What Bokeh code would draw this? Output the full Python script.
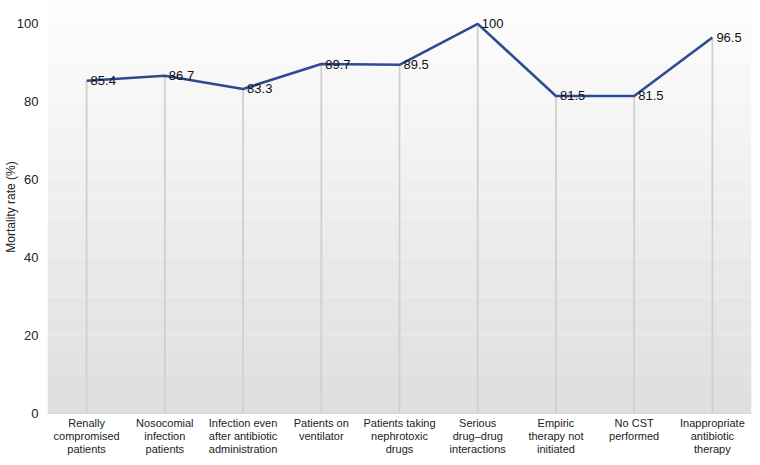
import numpy as np
from bokeh.plotting import figure
from bokeh.models import ColumnDataSource, FactorRange, Range1d, SingleIntervalTicker, BoxAnnotation
from bokeh.core.properties import value
from bokeh.embed import file_html
from bokeh.resources import INLINE

categories = [
    "Renally\ncompromised\npatients",
    "Nosocomial\ninfection\npatients",
    "Infection even\nafter antibiotic\nadministration",
    "Patients on\nventilator",
    "Patients taking\nnephrotoxic\ndrugs",
    "Serious\ndrug\u2013drug\ninteractions",
    "Empiric\ntherapy not\ninitiated",
    "No CST\nperformed",
    "Inappropriate\nantibiotic\ntherapy",
]
mortality = [85.4, 86.7, 83.3, 89.7, 89.5, 100, 81.5, 81.5, 96.5]
labels = ["85.4", "86.7", "83.3", "89.7", "89.5", "100", "81.5", "81.5", "96.5"]
y_ticks_interval = 20

FONT = "Liberation Sans"
Y_TOP = 106

src = ColumnDataSource(dict(cat=categories, val=mortality, lab=labels))

p = figure(
    width=752, height=457,
    x_range=FactorRange(factors=categories, range_padding=0),
    y_range=Range1d(0, Y_TOP),
    output_backend="svg", toolbar_location=None,
    min_border_top=0, min_border_right=1, min_border_left=0, min_border_bottom=0,
)
p.outline_line_color = None
p.background_fill_color = "white"
p.border_fill_color = "white"
p.xgrid.visible = False
p.ygrid.visible = False

# banded gradient background
edges = np.arange(0, Y_TOP, 5)
n = len(edges)
for i, b in enumerate(edges):
    t = min(b + 5, Y_TOP)
    g = int(round(223 + (i / (n - 1)) * 31))
    col = "#%02x%02x%02x" % (g, g, g)
    p.add_layout(BoxAnnotation(bottom=b, top=t, fill_color=col, fill_alpha=1.0,
                               line_color=None, level="underlay"))

# drop lines
p.segment(x0="cat", y0=0, x1="cat", y1="val", source=src,
          line_color="#d0d0d0", line_width=1.8)

# main line
p.line(x="cat", y="val", source=src, line_color="#2f4a92", line_width=2.6)

# data labels
p.text(x="cat", y="val", text="lab", source=src,
       text_font=value(FONT), text_font_size="13px", text_color="#111111",
       text_align="left", text_baseline="middle", x_offset=4)

# axes
p.yaxis.ticker = SingleIntervalTicker(interval=y_ticks_interval)
p.yaxis.axis_label = "Mortality rate (%)"
p.yaxis.axis_label_text_font = FONT
p.yaxis.axis_label_text_font_size = "12px"
p.yaxis.axis_label_text_font_style = "normal"
p.yaxis.axis_label_text_color = "#222222"
p.yaxis.axis_label_standoff = -4
p.yaxis.major_label_text_font = FONT
p.yaxis.major_label_text_font_size = "13px"
p.yaxis.major_label_text_color = "#222222"
p.yaxis.major_label_standoff = 3
p.yaxis.axis_line_color = None
p.yaxis.major_tick_line_color = None
p.yaxis.minor_tick_line_color = None

p.xaxis.major_label_text_font = FONT
p.xaxis.major_label_text_font_size = "11px"
p.xaxis.major_label_text_color = "#222222"
p.xaxis.major_label_text_line_height = 1.1
p.xaxis.major_label_standoff = -3
p.xaxis.axis_line_color = "#d8d8d8"
p.xaxis.major_tick_line_color = None
p.xaxis.minor_tick_line_color = None
p.xaxis.major_label_orientation = "horizontal"

open("out.html", "w").write(file_html(p, INLINE))
